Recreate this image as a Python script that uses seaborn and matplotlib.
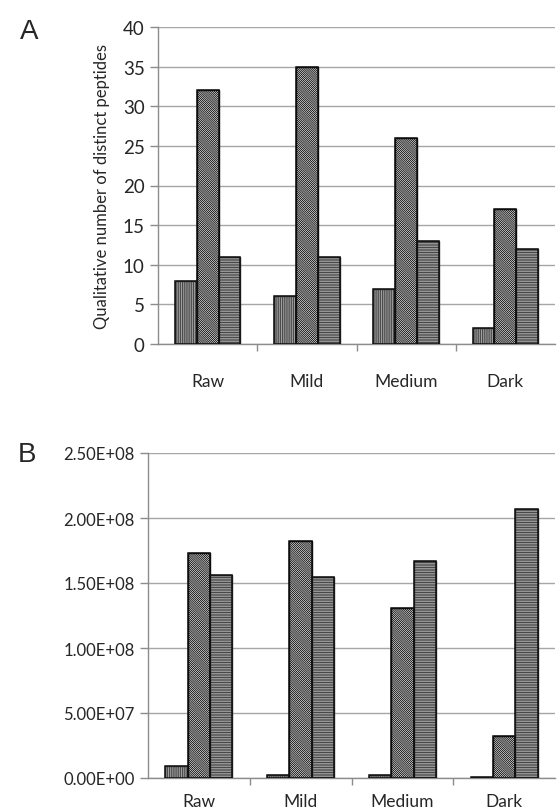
import matplotlib
matplotlib.use("Agg")
import matplotlib.pyplot as plt
import seaborn as sns
import pandas as pd
import numpy as np
from matplotlib.ticker import FixedLocator

categories = ["Raw", "Mild", "Medium", "Dark"]
series = ["S1", "S2", "S3"]
peptides_s1 = [8, 6, 7, 2]
peptides_s2 = [32, 35, 26, 17]
peptides_s3 = [11, 11, 13, 12]
intensity_s1 = [9.0e6, 2.5e6, 2.5e6, 0.8e6]
intensity_s2 = [1.73e8, 1.82e8, 1.31e8, 3.2e7]
intensity_s3 = [1.56e8, 1.55e8, 1.67e8, 2.07e8]
yticks_a = [0, 5, 10, 15, 20, 25, 30, 35, 40]
yticks_b = [0, 5e7, 1e8, 1.5e8, 2e8, 2.5e8]
yticklabels_b = ["0.00E+00", "5.00E+07", "1.00E+08", "1.50E+08", "2.00E+08", "2.50E+08"]

sns.set_style("white")
plt.rcParams['font.family'] = ['Lato', 'DejaVu Sans']
plt.rcParams['hatch.linewidth'] = 0.6

def make_df(a, b, c):
    rows = []
    for s, vals in zip(series, [a, b, c]):
        for cat, v in zip(categories, vals):
            rows.append({"cat": cat, "series": s, "value": v})
    return pd.DataFrame(rows)

fig = plt.figure(figsize=(5.57, 8.12), dpi=100)
axA = fig.add_axes([158/557, 1-345/812, 397/557, 317/812])
axB = fig.add_axes([148/557, 1-779/812, 407/557, 325/812])

styles = [("#a0a0a0", "|" * 9, "#3a3a3a"),
          ("white", "\\" * 16, "#000000"),
          ("#b5b5b5", "-" * 10, "#333333")]

def draw(ax, df, ymax, yticks, ylabels, fs):
    sns.barplot(data=df, x="cat", y="value", hue="series", ax=ax,
                width=0.66, gap=0, legend=False, saturation=1,
                palette=["white"]*3, edgecolor="black", linewidth=1.0, zorder=3)
    for i, cont in enumerate(ax.containers):
        fc, h, hc = styles[i]
        for bar in cont:
            bar.set_facecolor(fc)
            bar.set_hatch(h)
            bar.set_edgecolor(hc)
    for i, cont in enumerate(ax.containers):
        for bar in cont:
            x, y = bar.get_xy()
            ax.add_patch(plt.Rectangle((x, y), bar.get_width(), bar.get_height(),
                                       fill=False, edgecolor="#111111", linewidth=1.1, zorder=4))
    ax.set_ylim(0, ymax)
    ax.set_xlim(-0.5, 3.5)
    ax.set_yticks(yticks)
    ax.set_yticklabels(ylabels, fontsize=fs)
    ax.yaxis.grid(True, color="#a6a6a6", linewidth=1.0, zorder=0)
    ax.set_axisbelow(True)
    for s in ["top", "right"]:
        ax.spines[s].set_visible(False)
    for s in ["left", "bottom"]:
        ax.spines[s].set_color("#8c8c8c")
        ax.spines[s].set_linewidth(1.0)
    ax.tick_params(axis="y", direction="out", length=6, color="#8c8c8c", width=1.0, left=True)
    ax.tick_params(axis="x", which="major", length=0)
    ax.xaxis.set_minor_locator(FixedLocator([0.5, 1.5, 2.5]))
    ax.tick_params(axis="x", which="minor", direction="out", length=5, color="#8c8c8c", width=1.0, bottom=True)
    ax.set_xlabel("")
    ax.set_ylabel("")

draw(axA, make_df(peptides_s1, peptides_s2, peptides_s3), 40, yticks_a,
     [str(t) for t in yticks_a], 13.5)
axA.tick_params(axis="x", labelsize=12.5, pad=21)
axA.set_ylabel("Qualitative number of distinct peptides", fontsize=12, labelpad=9)

draw(axB, make_df(intensity_s1, intensity_s2, intensity_s3), 2.5e8, yticks_b,
     yticklabels_b, 12)
axB.tick_params(axis="x", labelsize=12.5, pad=11)

fig.text(20/557, 1-32/812, "A", fontsize=20, family="Liberation Sans", va="center")
fig.text(18/557, 1-455/812, "B", fontsize=20, family="Liberation Sans", va="center")

fig.savefig("out.png", dpi=100)
